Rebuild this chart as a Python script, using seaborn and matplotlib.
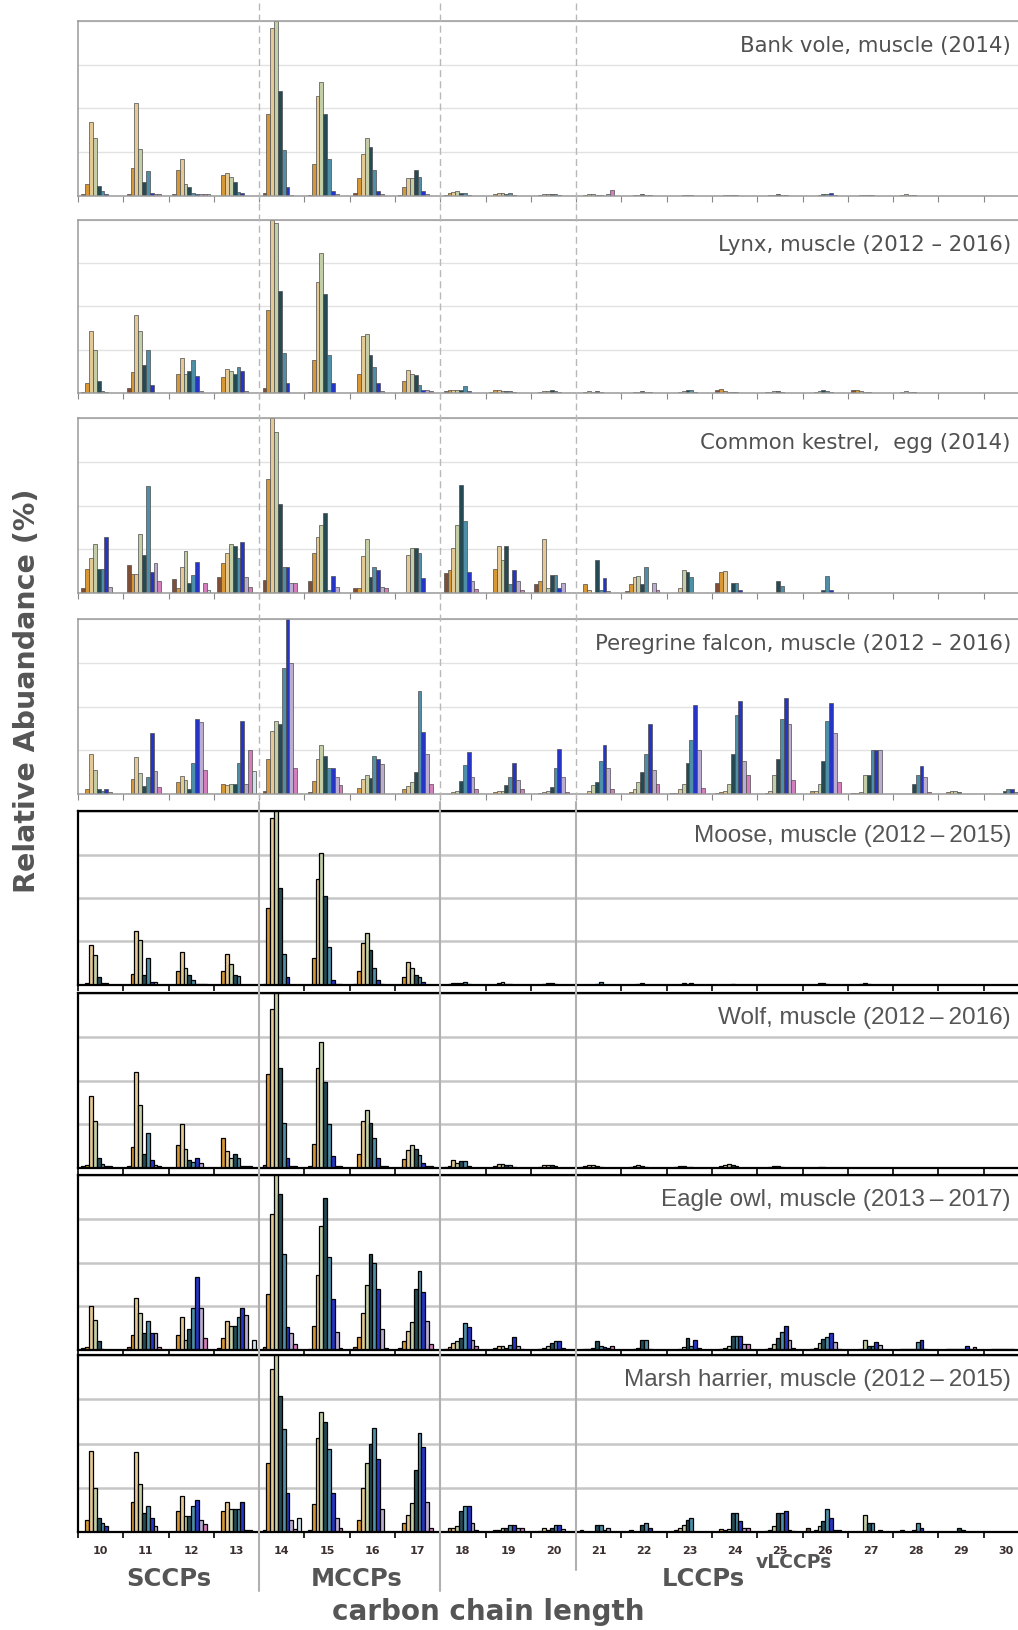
import numpy as np
import pandas as pd
import matplotlib
matplotlib.use("Agg")
import matplotlib.pyplot as plt
import seaborn as sns
from matplotlib.lines import Line2D
from matplotlib.transforms import blended_transform_factory

# carbon chain lengths (x groups) and chlorine homologue groups (hue)
chains = ["10", "11", "12", "13", "14", "15", "16", "17", "18", "19", "20",
          "21", "22", "23", "24", "25", "26", "27", "28", "29", "30"]
homologues = ["Cl3", "Cl4", "Cl5", "Cl6", "Cl7", "Cl8", "Cl9", "Cl10", "Cl11", "Cl12"]
colors = ["#8b4a2b", "#f39c1a", "#f2cd86", "#c6d3a0", "#1d4f5c",
          "#3f95b5", "#0b1fe0", "#b8a7d6", "#e46fc4", "#cde3ee"]

# relative abundance, one row per chain length (C10..C30), one column per homologue
bank_vole = [
    [.01, .07, .42, .33, .06, .03, .01, 0, 0, 0],
    [.01, .16, .53, .27, .08, .14, .02, .01, .01, 0],
    [.01, .15, .21, .07, .05, .02, .01, .01, .01, .01],
    [0, .12, .13, .11, .08, .025, .02, 0, 0, 0],
    [.02, .47, .96, 1.0, .60, .26, .05, .005, 0, 0],
    [.005, .18, .57, .65, .47, .21, .03, .01, 0, 0],
    [.02, .10, .24, .33, .28, .15, .03, .01, 0, 0],
    [.005, .05, .10, .10, .15, .11, .03, .01, 0, 0],
    [.005, .02, .025, .03, .02, .015, .005, 0, 0, 0],
    [0, .01, .015, .015, .01, .015, .005, 0, 0, 0],
    [0, .005, .01, .01, .01, .01, .005, 0, 0, 0],
    [0, .005, .01, .01, .005, .005, 0, .01, .035, 0],
    [0, 0, .005, .005, .01, .005, .005, 0, 0, 0],
    [0, 0, 0, .005, .005, .005, 0, 0, 0, 0],
    [0, 0, .005, .005, .005, .005, 0, 0, 0, 0],
    [0, 0, .005, .005, .01, .005, .005, 0, 0, 0],
    [0, 0, 0, .005, .01, .01, .02, .005, 0, 0],
    [0, 0, .005, .005, .005, .005, 0, 0, 0, 0],
    [0, .005, .01, .005, .005, 0, 0, 0, 0, 0],
    [0, 0, 0, 0, 0, 0, 0, 0, 0, 0],
    [0, 0, 0, 0, 0, 0, 0, 0, 0, 0],
]

lynx = [
    [.005, .06, .36, .25, .07, .01, .005, 0, 0, 0],
    [.03, .12, .45, .36, .16, .25, .045, 0, 0, 0],
    [0, .11, .20, .11, .13, .19, .10, .01, 0, 0],
    [0, .09, .14, .13, .11, .15, .125, .01, 0, 0],
    [.03, .48, 1.0, .98, .59, .23, .06, 0, 0, 0],
    [.005, .19, .64, .81, .57, .22, .06, 0, 0, 0],
    [0, .11, .33, .34, .22, .15, .06, .01, 0, 0],
    [0, .07, .135, .11, .105, .045, .02, .015, .01, 0],
    [.01, .015, .015, .02, .02, .04, .01, 0, 0, 0],
    [.005, .02, .015, .01, .01, .01, .005, 0, 0, 0],
    [0, .005, .01, .01, .015, .01, .005, 0, 0, 0],
    [0, .005, .01, .005, .01, .005, 0, 0, 0, 0],
    [0, 0, .005, .005, .01, .005, .005, 0, 0, 0],
    [0, 0, .005, .01, .015, .015, .005, 0, 0, 0],
    [.015, .025, .01, .005, .005, .005, 0, 0, 0, 0],
    [0, .005, .005, .01, .01, .005, 0, 0, 0, 0],
    [0, 0, .005, .01, .015, .01, .005, 0, 0, 0],
    [.015, .02, .01, .005, .005, 0, 0, 0, 0, 0],
    [0, .005, .01, .005, .005, 0, 0, 0, 0, 0],
    [0, 0, 0, 0, 0, 0, 0, 0, 0, 0],
    [0, 0, 0, 0, 0, 0, 0, 0, 0, 0],
]

kestrel = [
    [.03, .14, .20, .28, .14, .14, .32, .035, 0, 0],
    [.16, .11, .11, .34, .22, .61, .12, .17, .07, 0],
    [.08, .03, .15, .24, .055, .105, .18, 0, .06, .02],
    [.09, .17, .23, .28, .27, .20, .29, .09, .035, 0],
    [.075, .65, 1.0, .92, .51, .15, .15, .06, .06, 0],
    [.07, .23, .32, .39, .46, .02, .10, .035, 0, 0],
    [.027, .03, .21, .31, .09, .15, .13, .035, .03, 0],
    [0, 0, .22, .26, .26, .23, .085, 0, 0, 0],
    [.115, .13, .26, .39, .62, .41, .12, .07, .025, 0],
    [0, .14, .27, .19, .27, .05, .13, .07, .02, 0],
    [.05, .07, .31, .03, .105, .105, .03, .06, 0, 0],
    [0, .05, .02, 0, .19, .02, .085, .01, 0, 0],
    [.01, .05, .09, .10, .05, .15, 0, .06, .02, 0],
    [0, 0, .03, .13, .12, .09, 0, 0, 0, 0],
    [.06, .12, .125, 0, .06, .06, .02, 0, 0, 0],
    [0, 0, 0, 0, .07, .04, 0, 0, 0, 0],
    [0, 0, 0, 0, .02, .10, .015, 0, 0, 0],
    [0, 0, 0, 0, 0, 0, 0, 0, 0, 0],
    [0, 0, 0, 0, 0, 0, 0, 0, 0, 0],
    [0, 0, 0, 0, 0, 0, 0, 0, 0, 0],
    [0, 0, 0, 0, 0, 0, 0, 0, 0, 0],
]

peregrine = [
    [0, .03, .23, .14, .03, .02, .03, .01, 0, 0],
    [0, .085, .21, .12, .045, .10, .35, .13, .04, 0],
    [0, .07, .105, .08, .03, .18, .43, .41, .14, 0],
    [0, .06, .05, .06, .06, .18, .42, .06, .25, .13],
    [.02, .20, .36, .42, .40, .72, 1.0, .75, .15, 0],
    [.01, .075, .20, .28, .22, .15, .15, .10, .05, 0],
    [0, .035, .085, .11, .09, .22, .20, .17, 0, 0],
    [0, .03, .045, .07, .125, .59, .355, .23, .06, 0],
    [0, 0, .01, .02, .075, .165, .24, .10, .03, 0],
    [0, .01, .02, .02, .05, .10, .18, .08, .03, 0],
    [0, .005, .01, .02, .04, .15, .26, .10, .01, 0],
    [0, 0, .02, .05, .07, .19, .28, .15, .03, 0],
    [0, .01, .03, .07, .125, .23, .40, .135, .06, 0],
    [.005, .005, .03, .06, .18, .31, .51, .25, .035, 0],
    [.005, .01, .02, .06, .23, .45, .53, .19, .11, 0],
    [0, .005, .02, .11, .20, .43, .55, .40, .08, 0],
    [0, .015, .02, .06, .19, .42, .52, .35, .07, 0],
    [.005, .005, .01, .11, .11, .25, .25, .25, 0, 0],
    [0, 0, 0, 0, .06, .11, .16, .10, .01, 0],
    [0, .01, .02, .02, .01, 0, 0, 0, 0, 0],
    [0, 0, 0, 0, .02, .03, .03, .01, 0, 0],
]

moose = [
    [0, .01, .23, .17, .045, .01, .01, 0, 0, 0],
    [0, .065, .31, .26, .06, .155, .015, .02, 0, 0],
    [0, .08, .19, .095, .06, .03, .005, .005, .005, 0],
    [0, .08, .18, .12, .055, .05, 0, 0, 0, 0],
    [.005, .44, .96, 1.0, .56, .18, .045, 0, 0, 0],
    [0, .155, .61, .76, .51, .22, .03, .005, .005, 0],
    [.005, .08, .24, .30, .20, .095, .03, .005, 0, 0],
    [0, .045, .13, .095, .06, .045, .02, 0, 0, 0],
    [0, .005, .01, .01, .01, .02, .005, 0, 0, 0],
    [0, 0, .01, .015, .005, .005, 0, 0, 0, 0],
    [0, 0, .005, .01, .01, .005, 0, 0, 0, 0],
    [0, 0, 0, 0, .005, .015, 0, 0, 0, 0],
    [0, 0, 0, .005, .01, 0, 0, 0, 0, 0],
    [0, 0, 0, .01, .005, .01, 0, 0, 0, 0],
    [0, 0, 0, 0, .005, 0, 0, 0, 0, 0],
    [0, 0, 0, 0, 0, 0, 0, 0, 0, 0],
    [0, 0, 0, .01, .01, .005, 0, 0, 0, 0],
    [0, 0, .005, .01, .005, 0, 0, 0, 0, 0],
    [0, 0, 0, 0, 0, 0, 0, 0, 0, 0],
    [0, 0, 0, 0, 0, 0, 0, 0, 0, 0],
    [0, 0, 0, 0, 0, 0, 0, 0, 0, 0],
]

wolf = [
    [.01, .02, .41, .27, .06, .025, .01, .01, 0, 0],
    [.01, .12, .55, .36, .08, .20, .045, .02, .01, 0],
    [0, .13, .25, .11, .045, .035, .055, .03, 0, 0],
    [0, .17, .10, .055, .08, .055, .01, .01, .01, 0],
    [.02, .54, .91, 1.0, .57, .26, .055, .01, .01, 0],
    [.01, .14, .57, .72, .49, .25, .07, .01, .01, 0],
    [0, .08, .27, .33, .26, .17, .055, .01, .01, 0],
    [0, .05, .105, .13, .11, .075, .03, .01, .01, 0],
    [.005, .01, .045, .03, .04, .04, .01, 0, 0, 0],
    [0, .01, .025, .025, .02, .02, .005, 0, 0, 0],
    [0, .005, .015, .02, .015, .01, 0, 0, 0, 0],
    [.005, .01, .02, .015, .01, .005, 0, 0, 0, 0],
    [0, .005, .01, .015, .01, .005, 0, 0, 0, 0],
    [0, .005, .01, .01, .005, .005, 0, 0, 0, 0],
    [0, .01, .02, .025, .02, .01, 0, 0, 0, 0],
    [0, 0, .005, .01, .01, .005, 0, 0, 0, 0],
    [0, 0, 0, .005, .005, 0, 0, 0, 0, 0],
    [0, 0, 0, 0, 0, 0, 0, 0, 0, 0],
    [0, 0, 0, 0, 0, 0, 0, 0, 0, 0],
    [0, 0, 0, 0, 0, 0, 0, 0, 0, 0],
    [0, 0, 0, 0, 0, 0, 0, 0, 0, 0],
]

eagle_owl = [
    [.01, .02, .25, .17, .05, .005, 0, 0, 0, 0],
    [.02, .085, .30, .21, .095, .165, .095, .095, .015, 0],
    [0, .085, .19, .055, .12, .24, .42, .24, .07, 0],
    [.01, .07, .165, .14, .14, .19, .24, .20, 0, .06],
    [.015, .32, .78, 1.0, .89, .55, .13, .10, .035, 0],
    [.005, .14, .43, .71, .87, .53, .29, .105, .01, 0],
    [.02, .075, .21, .37, .55, .50, .35, .12, .01, 0],
    [.01, .05, .11, .16, .35, .45, .33, .165, .035, 0],
    [.005, .015, .04, .05, .07, .155, .13, .06, .025, 0],
    [0, .01, .025, .025, .01, .03, .075, .025, .005, 0],
    [0, .005, .01, .025, .04, .05, .05, .01, 0, 0],
    [0, .005, .005, .01, .05, .025, .02, .01, .025, 0],
    [0, 0, .005, .01, .06, .06, .005, 0, 0, 0],
    [0, 0, .005, .02, .07, .025, .06, .01, 0, 0],
    [0, .005, .01, .025, .08, .08, .08, .035, .035, 0],
    [0, .005, .01, .035, .07, .105, .14, .055, .01, 0],
    [0, .005, .01, .04, .065, .075, .095, .045, .005, 0],
    [0, 0, .005, .06, .025, .025, .045, .03, 0, 0],
    [0, .005, .005, .005, .005, .045, .055, .005, 0, 0],
    [0, .005, .005, .005, .005, .005, .025, .005, .02, 0],
    [0, .005, .005, .005, .005, .005, .005, 0, 0, 0],
]

marsh_harrier = [
    [0, .07, .46, .25, .08, .05, .035, 0, 0, 0],
    [0, .17, .45, .27, .11, .145, .08, .035, 0, 0],
    [0, .12, .205, .09, .09, .145, .18, .07, .045, 0],
    [0, .12, .17, .13, .13, .13, .17, .01, .01, 0],
    [.01, .39, .92, 1.0, .77, .58, .22, .07, .015, .08],
    [.01, .16, .53, .68, .62, .47, .22, .08, .02, 0],
    [0, .07, .25, .39, .50, .585, .415, .13, 0, 0],
    [0, .05, .095, .165, .35, .56, .48, .17, .02, 0],
    [0, .02, .02, .035, .12, .145, .145, .05, .01, 0],
    [0, .01, .01, .025, .02, .04, .04, .02, .02, 0],
    [0, .005, .025, .01, .025, .04, .04, .015, 0, 0],
    [.01, 0, 0, 0, .04, .04, .01, .025, 0, 0],
    [0, .01, 0, 0, .04, .05, .025, 0, 0, 0],
    [0, .01, .025, .04, .07, .08, 0, 0, 0, 0],
    [0, .015, .01, .015, .105, .105, .06, .025, .025, 0],
    [0, .005, .01, .035, .105, .105, .12, .01, .005, 0],
    [.025, 0, .01, .035, .06, .13, .08, .01, .01, 0],
    [0, 0, 0, .095, .05, .05, 0, .01, 0, 0],
    [0, .01, 0, 0, .01, .05, .025, 0, 0, 0],
    [0, 0, 0, 0, .025, .01, 0, 0, 0, 0],
    [0, 0, 0, 0, 0, 0, 0, 0, 0, 0],
]

panels = [
    ("Bank vole, muscle (2014)", bank_vole),
    ("Lynx, muscle (2012 \u2013 2016)", lynx),
    ("Common kestrel,  egg (2014)", kestrel),
    ("Peregrine falcon, muscle (2012 \u2013 2016)", peregrine),
    ("Moose, muscle (2012\u2009\u2013\u20092015)", moose),
    ("Wolf, muscle (2012\u2009\u2013\u20092016)", wolf),
    ("Eagle owl, muscle (2013\u2009\u2013\u20092017)", eagle_owl),
    ("Marsh harrier, muscle (2012\u2009\u2013\u20092015)", marsh_harrier),
]

sns.set_theme(style="white")
plt.rcParams["font.family"] = ["DejaVu Sans"]

W, H = 1018, 1630
fig = plt.figure(figsize=(W / 100, H / 100), dpi=100)

# panel top/bottom in pixels
boxes = [(21, 196), (220, 393), (418, 593), (619, 794),
         (811, 985), (993, 1168), (1175, 1350), (1355, 1532)]
left_px, right_px = 78, 1029
TEXT = "#555555"

axes = []
for i, ((title, vals), (top, bot)) in enumerate(zip(panels, boxes)):
    lower = i >= 4
    ax = fig.add_axes([left_px / W, 1 - bot / H, (right_px - left_px) / W, (bot - top) / H])
    df = pd.DataFrame(vals, index=chains, columns=homologues)
    df = df.reset_index().melt(id_vars="index", var_name="cl", value_name="val")
    sns.barplot(data=df, x="index", y="val", hue="cl", order=chains,
                hue_order=homologues, palette=colors, width=0.85, gap=0,
                errorbar=None, legend=False, ax=ax,
                edgecolor="black" if lower else "#4d4d4d",
                linewidth=0.9 if lower else 0.5)
    ymax = df["val"].max()
    ax.set_ylim(0, ymax)
    ax.set_xlim(-0.5, 20.5)
    ax.set_yticks(np.linspace(0, ymax, 5))
    ax.yaxis.grid(True, color="#c6c6c6" if lower else "#e2e2e2",
                  lw=1.8 if lower else 1.0)
    ax.set_axisbelow(True)
    ax.set_xticks(np.arange(-0.5, 21, 1.0))
    ax.set_xticklabels([])
    ax.tick_params(axis="x", which="major", direction="out", length=4,
                   width=1.2 if lower else 0.8,
                   color="black" if lower else "#888888", bottom=True)
    ax.tick_params(axis="y", left=False, labelleft=False)
    ax.set_xlabel("")
    ax.set_ylabel("")
    for s in ax.spines.values():
        s.set_color("black" if lower else "#9a9a9a")
        s.set_linewidth(1.6 if lower else 1.1)
    if lower:
        ax.text(0.981, 0.857, title, transform=ax.transAxes, ha="right",
                va="center", fontsize=17.5, color=TEXT, family="Liberation Sans")
    else:
        ax.text(0.981, 0.857, title, transform=ax.transAxes, ha="right",
                va="center", fontsize=15.3, color="#505050")
    axes.append(ax)

# chain length labels under the last panel
ax8 = axes[-1]
ax8.set_xticks(np.arange(0, 21), minor=True)
ax8.set_xticklabels(chains, minor=True)
ax8.tick_params(axis="x", which="minor", length=0, pad=10, labelsize=8,
                labelcolor="#3b2f2f")
for lab in ax8.get_xticklabels(minor=True):
    lab.set_fontweight("bold")

# group separators running through the panels
tr = blended_transform_factory(axes[0].transData, fig.transFigure)
for xs in (3.5, 7.5, 10.5):
    fig.add_artist(Line2D([xs, xs], [1 - 3 / H, 1 - 802 / H], transform=tr,
                          color="#b8b8b8", lw=1.0, ls=(0, (5, 3)), zorder=5))
for xs, end in ((3.5, 1591), (7.5, 1591), (10.5, 1570)):
    fig.add_artist(Line2D([xs, xs], [1 - 802 / H, 1 - end / H], transform=tr,
                          color="#b0b0b0", lw=1.5, zorder=5))

# class labels
tr8 = blended_transform_factory(ax8.transData, fig.transFigure)
for xs, lab in ((1.5, "SCCPs"), (5.65, "MCCPs"), (13.3, "LCCPs")):
    fig.text(xs, 1 - 1579 / H, lab, transform=tr8, ha="center", va="center",
             fontsize=17.5, weight="bold", color=TEXT)
fig.text(15.3, 1 - 1563 / H, "vLCCPs", transform=tr8, ha="center", va="center",
         fontsize=13.5, weight="bold", color=TEXT)

fig.text(488 / W, 1 - 1612 / H, "carbon chain length", ha="center", va="center",
         fontsize=20, weight="bold", color=TEXT)
fig.text(27 / W, 1 - 691 / H, "Relative Abuandance (%)", rotation=90,
         ha="center", va="center", fontsize=20.5, weight="bold", color=TEXT)

fig.savefig("out.png", dpi=100)
